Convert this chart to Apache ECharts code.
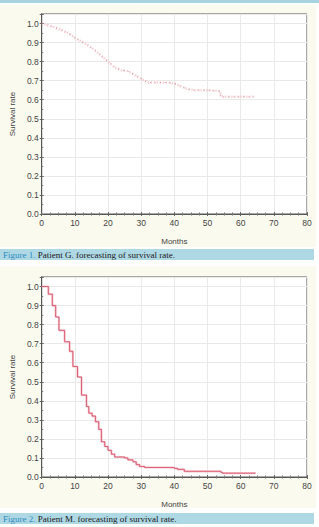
<!DOCTYPE html>
<html><head><meta charset="utf-8">
<script src="https://cdn.jsdelivr.net/npm/echarts@6/dist/echarts.min.js"></script>
<style>html,body{margin:0;padding:0;background:#fff}#c{width:319px;height:527px}</style>
</head><body><div id="c"></div>
<script>
// Figure 1: Patient G.
const monthsG = [0, 2, 4, 6, 8, 10, 12, 14, 16, 18, 20, 22, 24, 26, 28, 30, 32, 34, 36, 38, 40, 42, 44, 46, 50, 53.8, 54, 64];
const survivalG = [1.0, 0.99, 0.98, 0.965, 0.95, 0.925, 0.905, 0.885, 0.86, 0.83, 0.80, 0.77, 0.755, 0.75, 0.73, 0.71, 0.69, 0.69, 0.69, 0.69, 0.685, 0.67, 0.655, 0.65, 0.65, 0.645, 0.615, 0.615];
// Figure 2: Patient M.
const monthsM = [0, 2, 3.2, 4.2, 5.2, 6.9, 8.4, 9.4, 10.8, 12, 13.5, 14.2, 15.2, 16.2, 17.2, 18, 19, 20, 21, 22, 25, 26, 27.5, 28.5, 29.5, 31, 40, 41, 43, 54, 54.5, 64.5];
const survivalM = [1.0, 0.96, 0.90, 0.84, 0.77, 0.71, 0.66, 0.58, 0.525, 0.43, 0.37, 0.335, 0.32, 0.29, 0.25, 0.185, 0.16, 0.14, 0.12, 0.105, 0.10, 0.09, 0.08, 0.065, 0.055, 0.05, 0.045, 0.04, 0.03, 0.025, 0.02, 0.02];
const xTicks = [0, 10, 20, 30, 40, 50, 60, 70, 80];
const yTicks = [0.0, 0.1, 0.2, 0.3, 0.4, 0.5, 0.6, 0.7, 0.8, 0.9, 1.0];
const captions = [["Figure 1.", " Patient G. forecasting of survival rate."], ["Figure 2.", " Patient M. forecasting of survival rate."]];
const xName = "Months", yName = "Survival rate";

const chart = echarts.init(document.getElementById('c'), null, {renderer: 'svg'});
const grids = [{top: 14, height: 200}, {top: 277, height: 200}];
const lab = {color: '#444', fontSize: 8.5, fontFamily: 'Liberation Sans, Arial, sans-serif'};
const nm = {color: '#444', fontSize: 8, fontFamily: 'Liberation Sans, Arial, sans-serif'};
const tick = {show: true, inside: true, length: 2, lineStyle: {color: '#666'}};
const mtick = {show: true, splitNumber: 4, length: 1.5, lineStyle: {color: '#777'}};
const xAxes = [], yAxes = [];
grids.forEach((g, i) => {
  xAxes.push({gridIndex: i, type: 'value', min: xTicks[0], max: xTicks[xTicks.length-1], interval: xTicks[1]-xTicks[0],
    name: xName, nameLocation: 'middle', nameGap: 23, nameTextStyle: nm,
    axisLine: {show: true, onZero: false, lineStyle: {color: '#555'}},
    axisTick: tick, minorTick: mtick,
    axisLabel: Object.assign({margin: 4, formatter: v => String(v)}, lab),
    splitLine: {show: true, lineStyle: {color: '#e9e9e9', width: 1}}});
  xAxes.push({gridIndex: i, type: 'value', position: 'top', min: xTicks[0], max: xTicks[xTicks.length-1], interval: xTicks[1]-xTicks[0],
    axisLine: {show: true, lineStyle: {color: '#555'}},
    axisTick: tick, minorTick: mtick,
    axisLabel: {show: false}, splitLine: {show: false}});
  yAxes.push({gridIndex: i, type: 'value', min: 0, max: 1.05, interval: 0.1,
    name: yName, nameLocation: 'middle', nameGap: 24, nameRotate: 90, nameTextStyle: nm,
    axisLine: {show: true, onZero: false, lineStyle: {color: '#555'}},
    axisTick: tick, minorTick: Object.assign({}, mtick, {splitNumber: 2}),
    axisLabel: Object.assign({margin: 3, showMaxLabel: false, formatter: v => (Math.abs(v*10 - Math.round(v*10)) < 1e-6 ? v.toFixed(1) : '')}, lab),
    splitLine: {show: true, lineStyle: {color: '#e9e9e9', width: 1}}});
  yAxes.push({gridIndex: i, type: 'value', position: 'right', min: 0, max: 1.05, interval: 0.1,
    axisLine: {show: true, lineStyle: {color: '#555'}},
    axisTick: tick,
    axisLabel: {show: false}, splitLine: {show: false}});
});

const pairsG = monthsG.map((m, i) => [m, survivalG[i]]);
const pairsM = monthsM.map((m, i) => [m, survivalM[i]]);

const bg = [
  {type: 'rect', shape: {x: 0, y: 0, width: 319, height: 3}, style: {fill: '#a9d3e0'}, z: -10},
  {type: 'rect', shape: {x: 0, y: 5, width: 316, height: 242}, style: {fill: '#fbfaee'}, z: -10},
  {type: 'rect', shape: {x: 0, y: 249, width: 314, height: 11}, style: {fill: '#aed8e4'}, z: -10},
  {type: 'rect', shape: {x: 0, y: 266, width: 316, height: 242}, style: {fill: '#fbfaee'}, z: -10},
  {type: 'rect', shape: {x: 0, y: 513, width: 314, height: 11}, style: {fill: '#aed8e4'}, z: -10}
];
[254.5, 518.5].forEach((y, i) => {
  bg.push({type: 'text', x: 3, y: y, style: {
    text: '{a|' + captions[i][0] + '}{b|' + captions[i][1] + '}',
    verticalAlign: 'middle',
    rich: {a: {fill: '#2f8bbf', fontSize: 9, fontFamily: 'Liberation Serif, Times New Roman, serif'},
           b: {fill: '#1a1a1a', fontSize: 9, fontFamily: 'Liberation Serif, Times New Roman, serif'}}
  }, z: 10});
});

chart.setOption({
  animation: false,
  backgroundColor: '#fff',
  grid: grids.map(g => ({left: 33, right: 12, top: g.top, height: g.height, show: true, backgroundColor: '#fff', borderColor: '#555', borderWidth: 1})),
  xAxis: xAxes,
  yAxis: yAxes,
  graphic: bg,
  series: [
    {type: 'line', xAxisIndex: 0, yAxisIndex: 0, data: pairsG, showSymbol: false,
      lineStyle: {color: 'rgba(238,170,182,0.7)', width: 2.5, type: [1, 2]}},
    {type: 'line', xAxisIndex: 0, yAxisIndex: 0, data: pairsG, showSymbol: false,
      lineStyle: {color: 'rgba(200,70,92,0.7)', width: 0.8, type: [1, 4]}},
    {type: 'line', xAxisIndex: 2, yAxisIndex: 2, data: pairsM, step: 'end', showSymbol: false,
      lineStyle: {color: 'rgba(244,182,192,0.8)', width: 2.2}},
    {type: 'line', xAxisIndex: 2, yAxisIndex: 2, data: pairsM, step: 'end', showSymbol: false,
      lineStyle: {color: '#d24a62', width: 0.8}}
  ]
});
</script></body></html>
